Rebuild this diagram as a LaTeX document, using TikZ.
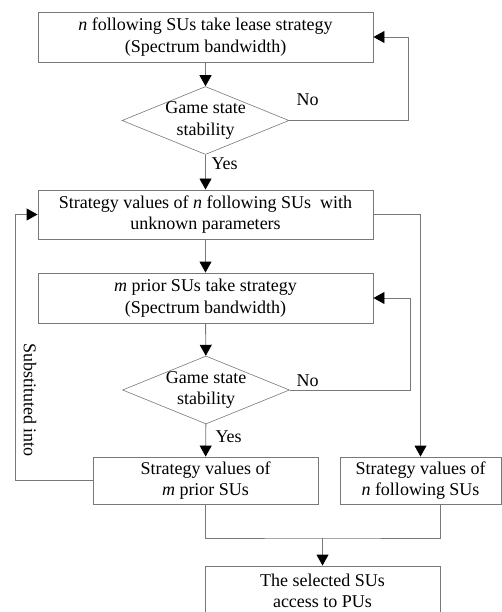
\documentclass[tikz,border=0pt]{standalone}
\usepackage{fontspec}
\setmainfont{Liberation Serif}
\usetikzlibrary{arrows.meta}
\usetikzlibrary{shapes.geometric}
\definecolor{linegray}{RGB}{120,120,120}
\tikzset{
    stepbox/.style={
        draw=linegray, line width=0.9pt, rectangle, align=center,
        inner sep=0pt, minimum width=#1
    },
    stepbox/.default=335pt,
    decision/.style={
        draw=linegray, line width=0.6pt, diamond, inner sep=0pt,
        minimum width=167pt, minimum height=68pt
    },
    line/.style={draw=linegray, line width=0.9pt},
    arr/.style={line, -{Triangle[length=11pt,width=12pt,color=black]}}
}
\newcommand{\flowtext}{\fontsize{18}{21.6}\selectfont}

\begin{document}
\begin{tikzpicture}[x=1pt,y=-1pt,font=\flowtext]
		\clip (0,0) rectangle (502,612);

		% Following SUs
		\node[stepbox, minimum height=50pt] (lease) at (205.5,37)
			{\textit{n} following SUs take lease strategy\\(Spectrum bandwidth)};
		\node[decision] (stab1) at (205.5,120.5) {};
		\node[align=center] (stab1txt) at (stab1) {Game state\\stability};
		\node[stepbox, minimum height=49pt] (valn) at (205.5,214.5)
			{Strategy values of \textit{n} following SUs\ \ with\\unknown parameters};

		% Prior SUs
		\node[stepbox, minimum height=50pt] (prior) at (205.5,298)
			{\textit{m} prior SUs take strategy\\(Spectrum bandwidth)};
		\node[decision] (stab2) at (206,390) {};
		\node[align=center] (stab2txt) at (stab2) {Game state\\stability};
		\node[stepbox=225pt, minimum height=47pt] (valm) at (205.5,480.5)
			{Strategy values of\\\textit{m} prior SUs};
		\node[stepbox=161pt, minimum height=47pt] (valf) at (420.5,480.5)
			{Strategy values of\\\textit{n} following SUs};

		% Result
		\node[stepbox=235pt, minimum height=50pt] (access) at (322.5,591)
			{The selected SUs\\access to PUs};
		\coordinate (mj) at (322.5,538);

		% Connectors
		\draw[arr] (lease) -- (stab1);
		\draw[arr] (stab1.east) -- ++(119,0) |- (lease.east);
		\node[anchor=west] (no1) at (293,100) {No};
		\draw[arr] (stab1) -- (valn);
		\node[anchor=west] (yes1) at (208,164) {Yes};

		\draw[arr] (valn.east) -| (valf.north);
		\draw[arr] (valn) -- (prior);
		\draw[arr] (prior) -- (stab2);
		\draw[arr] (stab2.east) -- ++(121,0) |- (prior.east);
		\node[anchor=west] (no2) at (293,381) {No};
		\draw[arr] (stab2) -- (valm);
		\node[anchor=west] (yes2) at (212,437) {Yes};

		\draw[arr] (valm.west) -- ++(-77,0) |- (valn.west);
		\node[rotate=-90] (subst) at (30,400) {Substituted into};

		\draw[line] (valm.south) |- (mj) -| (access.east |- valf.south);
		\draw[arr] (mj) -- (access.north);
\end{tikzpicture}
\end{document}
